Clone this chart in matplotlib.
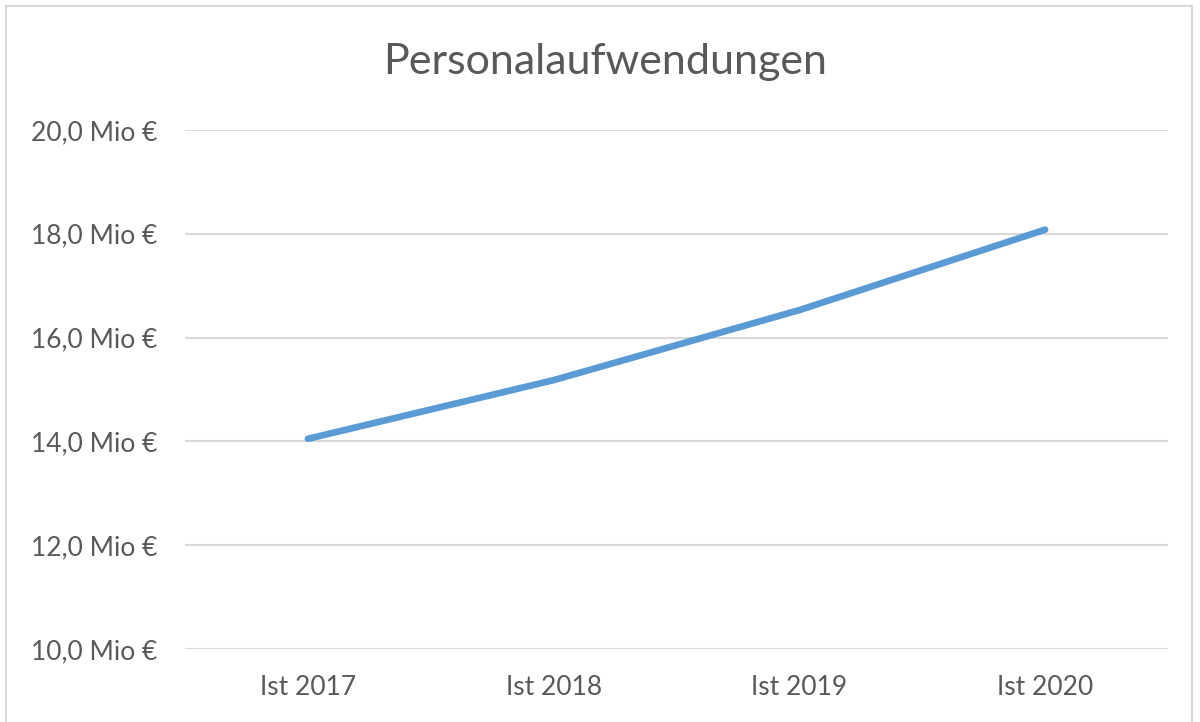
import matplotlib.pyplot as plt
from matplotlib.patches import Rectangle

plt.rcParams['font.family'] = ['Lato', 'DejaVu Sans']

# values in Mio €
years = ['Ist 2017', 'Ist 2018', 'Ist 2019', 'Ist 2020']
costs = [14.05, 15.18, 16.53, 18.08]
y_ticks = [10, 12, 14, 16, 18, 20]

fig = plt.figure(figsize=(12, 7.22), dpi=100)
ax = fig.add_axes([185 / 1200, 1 - 649 / 722, 983 / 1200, 519 / 722])

# chart area border
fig.patches.append(Rectangle((6 / 1200, -0.01), 1186 / 1200, 1 - 6 / 722 + 0.01,
                             transform=fig.transFigure, fill=False,
                             edgecolor='#d9d9d9', linewidth=1.5))

x = range(len(years))
ax.plot(x, costs, color='#5b9bd5', linewidth=4.8, solid_capstyle='round',
        solid_joinstyle='round', zorder=3)

ax.set_xlim(-0.5, len(years) - 0.5)
ax.set_ylim(10, 20)
ax.set_xticks(list(x))
ax.set_xticklabels(years)
ax.set_yticks(y_ticks)
ax.set_yticklabels([f'{v:.1f}'.replace('.', ',') + ' Mio €' for v in y_ticks])

ax.grid(axis='y', color='#d9d9d9', linewidth=1.5)
ax.set_axisbelow(True)
for s in ax.spines.values():
    s.set_visible(False)
ax.tick_params(length=0, labelsize=19, colors='#595959')
ax.tick_params(axis='x', pad=19)
ax.tick_params(axis='y', pad=20)

fig.text(0.504, 1 - 62 / 722, 'Personalaufwendungen', ha='center', va='center',
         fontsize=31, color='#595959')

fig.savefig('out.png', dpi=100)
